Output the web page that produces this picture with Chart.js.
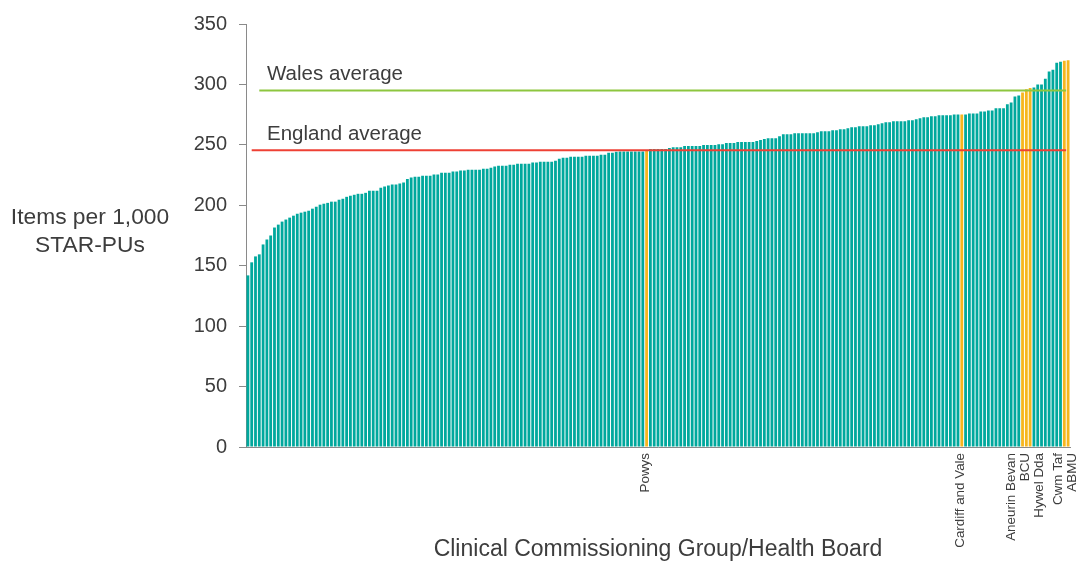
<!DOCTYPE html>
<html>
<head>
<meta charset="utf-8">
<script src="https://cdn.jsdelivr.net/npm/chart.js@4.4.1/dist/chart.umd.min.js"></script>
<style>
  html, body { margin: 0; padding: 0; background: #fff; }
</style>
</head>
<body>
<canvas id="myChart" width="1080" height="564"></canvas>
<script>
// Items per 1,000 STAR-PUs, ranked (CCGs in England + Welsh health boards)
const values = [
  142, 152.8, 157.7, 159.4, 167.6, 171.7, 175, 181.6, 184, 186.5,
  188.2, 189.8, 191.4, 193, 193.9, 194.7, 195.5, 197.2, 198.8, 200.5,
  201.3, 202, 203, 203, 204.6, 205.4, 207, 207.9, 208.7, 209.5,
  209.5, 210.3, 212, 212, 212, 214.5, 215.5, 216.3, 217.2, 217.2,
  218, 218.8, 221.8, 222.9, 223.7, 223.7, 224.5, 224.5, 224.5, 225.4,
  225.4, 227, 227, 227, 227.9, 227.9, 228.7, 228.7, 229.5, 229.5,
  229.5, 229.5, 230.3, 230.3, 231.1, 232, 232.8, 232.8, 232.8, 233.6,
  233.6, 234.4, 234.4, 234.4, 234.4, 235.3, 235.3, 236.1, 236.1, 236.1,
  236.1, 236.9, 238.5, 239.3, 239.3, 240.2, 240.2, 240.2, 240.2, 241,
  241, 241, 241, 241.8, 241.8, 243.4, 243.4, 244.3, 244.6, 244.6,
  244.6, 244.6, 244.6, 244.6, 244.6, 245, 246.5, 246.5, 246.5, 246.5,
  246.5, 247.3, 248.1, 248.1, 248.1, 249, 249, 249, 249, 249,
  249.8, 249.8, 249.8, 249.8, 250.6, 250.6, 251.5, 251.5, 251.5, 252.3,
  252.3, 252.3, 252.3, 252.3, 253.1, 254, 254.8, 255.5, 255.5, 255.5,
  257.2, 258.8, 258.8, 258.8, 259.6, 259.6, 259.6, 259.6, 259.6, 259.6,
  260.5, 261.3, 261.3, 261.3, 262.1, 262.1, 262.9, 262.9, 263.7, 264.6,
  264.6, 265.4, 265.4, 265.4, 266.2, 266.2, 267, 267.8, 268.7, 268.7,
  269.5, 269.5, 269.5, 269.5, 270.3, 270.3, 271.1, 272, 272.8, 272.8,
  273.6, 273.6, 274.4, 274.4, 274.4, 274.4, 275.2, 275.2, 275.2, 275.2,
  276, 276, 276, 277.7, 277.7, 278.5, 278.5, 280.2, 280.2, 280.2,
  283.5, 285.1, 290, 290.8, 293.3, 296, 297, 297.4, 299.9, 299.9,
  304.8, 310.6, 312.2, 318, 318.8, 319.6, 320
];

// Welsh health boards and their rank (1-based) in the list above
const welshBoards = ['Powys', 'Cardiff and Vale', 'Aneurin Bevan', 'BCU', 'Hywel Dda', 'Cwm Taf', 'ABMU'];
const welshRanks = [106, 189, 205, 206, 207, 216, 217];

const yTicks = [0, 50, 100, 150, 200, 250, 300, 350];

const englandAverage = 245.5;
const walesAverage = 295;

const xTitle = 'Clinical Commissioning Group/Health Board';
const yTitle = ['Items per 1,000', 'STAR-PUs'];

// colours
const teal = 'rgb(0, 168, 157)';
const orange = 'rgb(246, 182, 30)';
const red = 'rgb(238, 64, 52)';
const green = 'rgb(141, 198, 63)';
const textColor = '#3d3d3d';
const axisColor = '#8a8a8a';
const fontFamily = "'Liberation Sans', Arial, sans-serif";

// category labels: empty for CCGs, name for Welsh boards
const categories = values.map((v, i) => {
    const k = welshRanks.indexOf(i + 1);
    return k >= 0 ? welshBoards[k] : '';
});
const barColors = categories.map(c => c ? orange : teal);

const averages = [
    { label: 'Wales average', value: walesAverage, color: green, from: 3 },
    { label: 'England average', value: englandAverage, color: red, from: 1 }
];

// push labels apart so rotated names don't sit on top of each other
function spread(xs, gap) {
    let groups = xs.map(v => ({ members: [v] }));
    const start = g => g.members.reduce((a, b) => a + b, 0) / g.members.length - (g.members.length - 1) * gap / 2;
    let merged = true;
    while (merged) {
        merged = false;
        for (let i = 0; i < groups.length - 1; i++) {
            const a = groups[i], b = groups[i + 1];
            const aEnd = start(a) + (a.members.length - 1) * gap;
            if (start(b) - aEnd < gap) {
                groups.splice(i, 2, { members: a.members.concat(b.members) });
                merged = true;
                break;
            }
        }
    }
    const out = [];
    groups.forEach(g => {
        const s = start(g);
        g.members.forEach((m, j) => out.push(s + j * gap));
    });
    return out;
}

const overlay = {
    id: 'overlay',
    afterDatasetsDraw(chart) {
        const { ctx, scales: { x, y } } = chart;
        const last = values.length - 1;
        ctx.save();
        averages.forEach(a => {
            const py = y.getPixelForValue(a.value);
            ctx.strokeStyle = a.color;
            ctx.lineWidth = 2;
            ctx.beginPath();
            ctx.moveTo(x.getPixelForValue(a.from), py);
            ctx.lineTo(x.getPixelForValue(last) - 2, py);
            ctx.stroke();
            ctx.fillStyle = textColor;
            ctx.font = '20.5px ' + fontFamily;
            ctx.textAlign = 'left';
            ctx.textBaseline = 'middle';
            ctx.fillText(a.label, chart.chartArea.left + 21, py - 16);
        });
        ctx.restore();
    },
    afterDraw(chart) {
        const { ctx, scales: { x } } = chart;
        ctx.save();
        // Welsh board names under the axis
        const xs = welshRanks.map(r => x.getPixelForValue(r - 1));
        const placed = spread(xs, 14);
        ctx.fillStyle = textColor;
        ctx.font = '13.4px ' + fontFamily;
        ctx.textAlign = 'right';
        ctx.textBaseline = 'middle';
        welshBoards.forEach((name, i) => {
            ctx.save();
            ctx.translate(placed[i] - 1, x.top + 6);
            ctx.rotate(-Math.PI / 2);
            ctx.fillText(name, 0, 0);
            ctx.restore();
        });
        // horizontal y axis title
        ctx.font = '22.8px ' + fontFamily;
        ctx.textAlign = 'center';
        yTitle.forEach((line, i) => ctx.fillText(line, 90, 218 + i * 28));
        ctx.restore();
    }
};

const data = {
    labels: categories,
    datasets: [{
        label: 'Items per 1,000 STAR-PUs',
        data: values,
        backgroundColor: barColors,
        categoryPercentage: 1,
        barPercentage: 0.74
    }]
};

const config = {
    type: 'bar',
    data: data,
    options: {
        responsive: false,
        animation: false,
        devicePixelRatio: 1,
        layout: { padding: { top: 21, right: 10, left: 0, bottom: 0 } },
        plugins: {
            legend: { display: false },
            tooltip: { enabled: false }
        },
        scales: {
            x: {
                grid: { display: false },
                border: { display: true, color: axisColor, width: 1 },
                ticks: { display: false },
                title: {
                    display: true,
                    text: xTitle,
                    color: textColor,
                    font: { family: fontFamily, size: 23 },
                    padding: { top: 0, bottom: 1 }
                },
                afterFit: s => { s.height = 117; }
            },
            y: {
                min: 0,
                max: 350,
                afterBuildTicks: s => { s.ticks = yTicks.map(v => ({ value: v })); },
                ticks: {
                    color: textColor,
                    font: { family: fontFamily, size: 20 },
                    padding: 12
                },
                grid: { drawOnChartArea: false, drawTicks: true, tickLength: 7, color: axisColor },
                border: { color: axisColor, width: 1 },
                afterFit: s => { s.width = 246; }
            }
        }
    },
    plugins: [overlay]
};

const chart = new Chart(document.getElementById('myChart'), config);
</script>
</body>
</html>
